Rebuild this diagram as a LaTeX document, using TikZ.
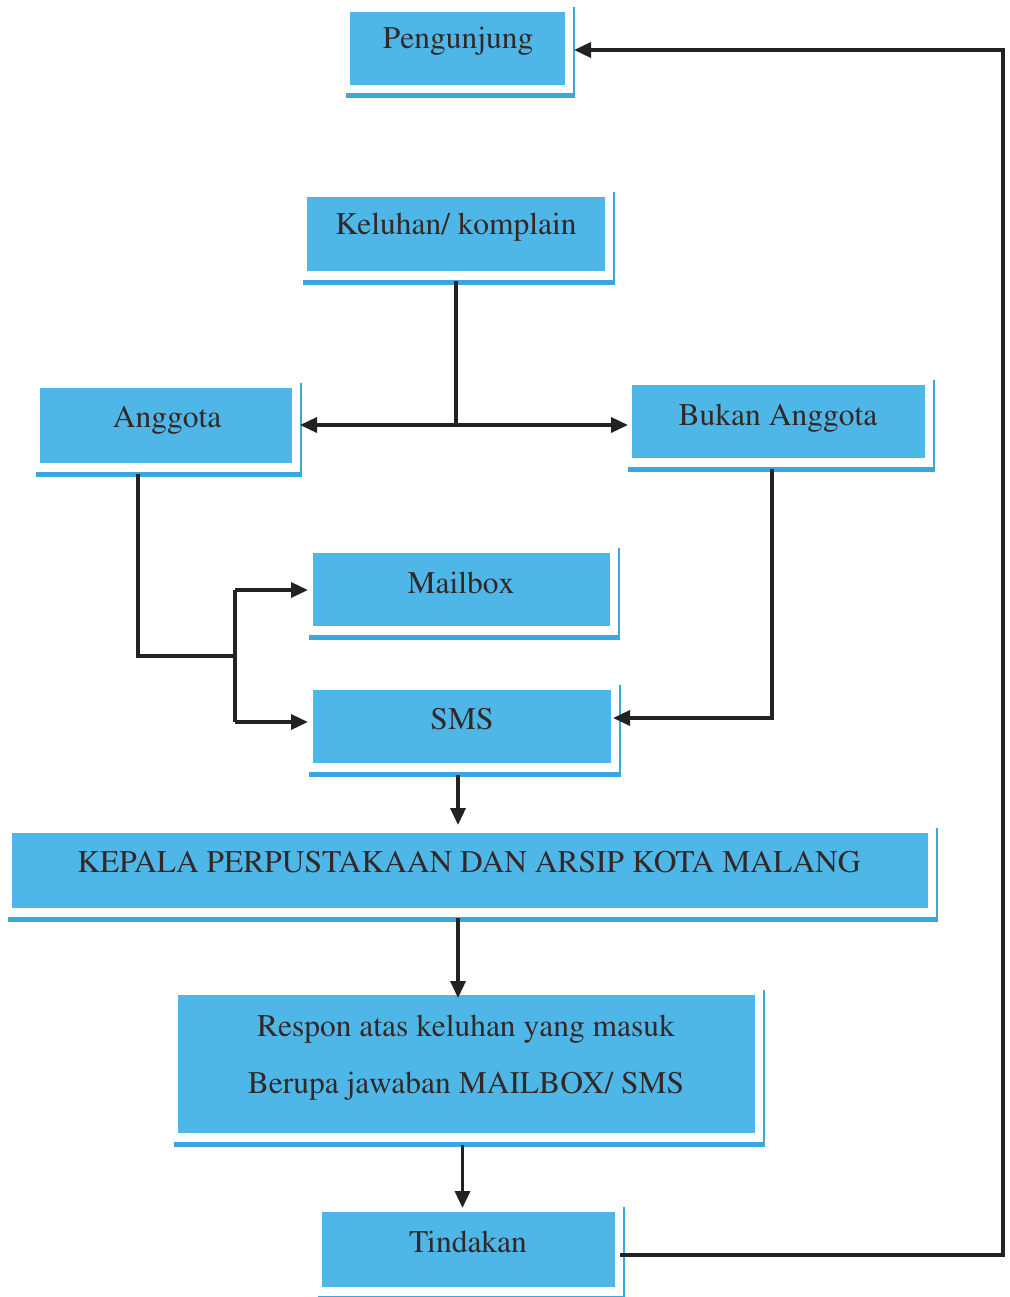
\documentclass[tikz,border=0pt]{standalone}
\usepackage[T1]{fontenc}
\usepackage{mathptmx}
\usetikzlibrary{arrows.meta,calc}
\definecolor{boxblue}{RGB}{79,183,232}
\definecolor{lineblue}{RGB}{58,168,222}
\definecolor{txtcol}{RGB}{52,40,38}
\definecolor{conncol}{RGB}{34,34,34}
\tikzset{
  bluebox/.style={fill=boxblue, draw=none, inner sep=0pt, outer sep=0pt},
  lbl/.style={anchor=base, font=\rmfamily\fontsize{31.5}{38}\selectfont, text=txtcol, inner sep=0pt},
  sideline/.style={draw=lineblue, line width=2pt},
  bottomline/.style={draw=lineblue, line width=5pt},
  conn/.style={draw=conncol, line width=3.5pt},
  arr/.style={conn, -{Triangle[length=17pt,width=15pt]}},
}
\newcommand\flowbox[5]{%
  \node[bluebox, minimum width={#4-#2}, minimum height={#5-#3}] (#1) at ({(#2+#4)/2},{(#3+#5)/2}) {};
  \draw[sideline] ($(#1.north east)+(9,-5)$) -- ($(#1.south east)+(9,11)$);
  \draw[bottomline] ($(#1.south west)+(-4,11)$) -- ($(#1.south east)+(10,11)$);
}
\begin{document}
\begin{tikzpicture}[x=1pt,y=-1pt]
\useasboundingbox (0,0) rectangle (1009,1297);
% boxes
\flowbox{peng}{350}{12}{565}{85}
\flowbox{kel}{307}{197}{605}{271}
\flowbox{ang}{40}{388}{292}{463}
\flowbox{bukan}{632}{385}{925}{458}
\flowbox{mail}{313}{553}{610}{626}
\flowbox{sms}{313}{690}{611}{763}
\flowbox{kep}{12}{833}{928}{908}
\flowbox{resp}{178}{995}{755}{1133}
\flowbox{tind}{322}{1212}{615}{1287}
% texts
\node[lbl] (peng-t) at (458,49) {Pengunjung};
\node[lbl] (kel-t) at (456,234) {Keluhan/ komplain};
\node[lbl] (ang-t) at (167,427) {Anggota};
\node[lbl] (bukan-t) at (778,425) {Bukan Anggota};
\node[lbl] (mail-t) at (461,593) {Mailbox};
\node[lbl] (sms-t) at (462,729) {SMS};
\node[lbl] (kep-t) at (469,872) {KEPALA PERPUSTAKAAN DAN ARSIP KOTA MALANG};
\node[lbl] (resp-t1) at (466,1036) {Respon atas keluhan yang masuk};
\node[lbl] (resp-t2) at (466,1093) {Berupa jawaban MAILBOX/ SMS};
\node[lbl] (tind-t) at (468,1252) {Tindakan};
% connectors
\coordinate (j1) at (456,425);
\draw[conn] ($(kel.south)+(0,10)$) -- (j1);
\draw[arr] (j1) -- ($(ang.east |- j1)+(8,0)$);
\draw[arr] (j1) -- ($(bukan.west |- j1)+(-4,0)$);
\coordinate (j2) at (235,656);
\coordinate (j3) at (235,590);
\coordinate (j4) at (235,722);
\draw[conn] ($(ang.south west)+(98,11)$) |- (j2);
\draw[conn] (j3) -- (j4);
\draw[arr] (j3) -- ($(mail.west |- j3)+(-5,0)$);
\draw[arr] (j4) -- ($(sms.west |- j4)+(-5,0)$);
\coordinate (j5) at (772,718);
\draw[arr] ($(bukan.south west)+(140,11)$) -- (j5) -- ($(sms.east |- j5)+(2,0)$);
\coordinate (a1) at ($(sms.south)+(-4,12)$);
\draw[arr] (a1) -- ($(a1 |- kep.north)+(0,-8)$);
\coordinate (a2) at ($(kep.south)+(-12,10)$);
\draw[arr] (a2) -- ($(a2 |- resp.north)+(0,3)$);
\coordinate (a3) at ($(resp.south)+(-4,12)$);
\draw[arr] (a3) -- ($(a3 |- tind.north)+(0,-4)$);
\coordinate (r1) at (1003,1255);
\coordinate (r2) at (1003,50);
\draw[arr] ($(tind.east |- r1)+(5,0)$) -- (r1) -- (r2) -- ($(peng.east |- r2)+(9,0)$);
\end{tikzpicture}
\end{document}
